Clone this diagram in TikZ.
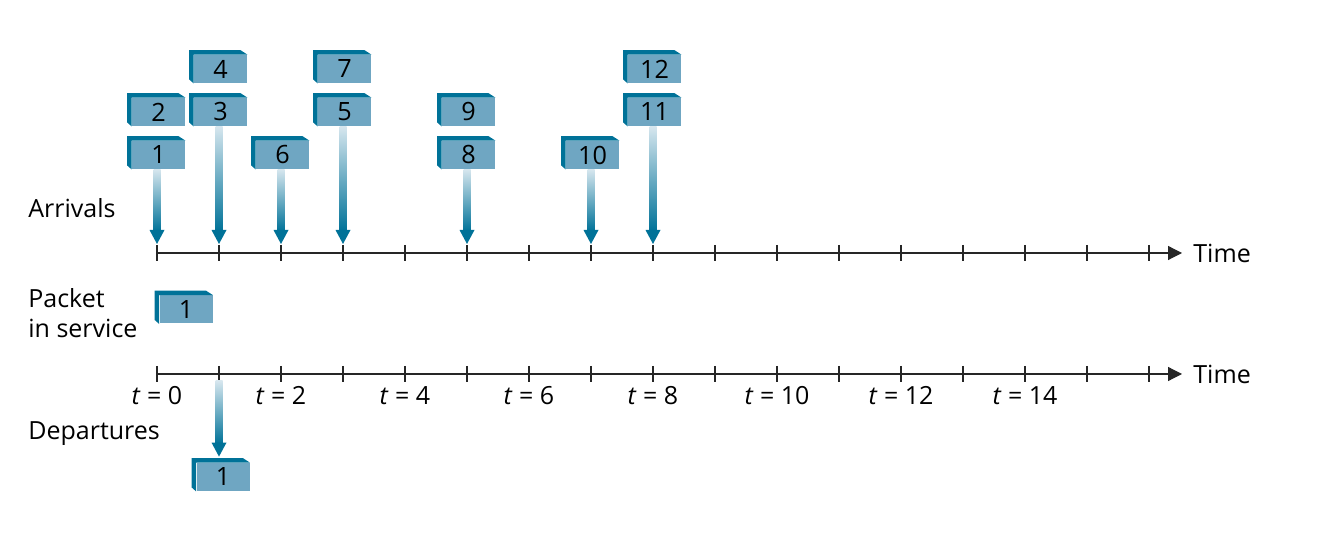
\documentclass[tikz,border=0pt]{standalone}
\usepackage{fontspec}
\setmainfont{Open Sans}
\usetikzlibrary{calc, arrows.meta}

\definecolor{boxLight}{RGB}{111,166,194}
\definecolor{boxDark}{RGB}{0,114,152}
\definecolor{arrowLight}{RGB}{214,230,238}

\begin{document}
\begin{tikzpicture}[
    x=0.5pt, y=-0.5pt,
    packet/.style={rectangle, fill=boxLight, minimum width=26.5pt, minimum height=14pt, inner sep=0pt, font=\fontsize{12.6}{14}\selectfont},
    timeaxis/.style={draw=black!85, line width=0.6pt},
    tickline/.style={draw=black!85, line width=0.55pt},
    sidetext/.style={font=\fontsize{12.5}{15}\selectfont, inner sep=0pt, align=left},
]
    \useasboundingbox (0,0) rectangle (1334,550);

    \def\xScale{62}
    \def\xZero{157}
    \def\arrY{253}
    \def\depY{374}

    % two time axes with ticks
    \coordinate (arrStart) at (\xZero, \arrY);
    \coordinate (arrEnd) at (1182, \arrY);
    \coordinate (depStart) at (\xZero, \depY);
    \coordinate (depEnd) at (1182, \depY);
    \draw [timeaxis, -{Triangle[length=7pt, width=7pt]}] (arrStart) -- (arrEnd);
    \draw [timeaxis, -{Triangle[length=7pt, width=7pt]}] (depStart) -- (depEnd);
    \node [sidetext, anchor=west, xshift=5.5pt] at (arrEnd) (timeA){Time};
    \node [sidetext, anchor=west, xshift=5.5pt] at (depEnd) (timeD){Time};

    \foreach \t in {0, ..., 16}
    {
        \draw [tickline] (\xZero+\xScale*\t, \arrY-8) -- (\xZero+\xScale*\t, \arrY+8);
        \draw [tickline] (\xZero+\xScale*\t, \depY-8) -- (\xZero+\xScale*\t, \depY+8);
        % arrow tip on top of each arrival tick
        \coordinate (arrTick_\t) at (\xZero+\xScale*\t, \arrY-9);
        % arrow start under each departure tick
        \coordinate (depTick_\t) at (\xZero+\xScale*\t, \depY+7);
    }

    % time labels under the lower axis
    \foreach \t in {0, 2, ..., 14}
    {
        \node [sidetext] at (\xZero+\xScale*\t, 396) (tlabel_\t){\textit{t} = \t};
    }

    % row labels on the left
    \node [sidetext, anchor=west] at (28, 208) (arrivals){Arrivals};
    \node [sidetext, anchor=west] at (28, 313) (service){Packet\\in service};
    \node [sidetext, anchor=west] at (28, 434) (departures){Departures};

    % arriving packets
    \foreach \i/\posT/\row in {
    % i:    packet number,
    % posT: the slot it arrives in,
    % row:  the level of the stack, 1 at the bottom
    1/0/1, 2/0/2,
    3/1/2, 4/1/3,
    6/2/1,
    5/3/2, 7/3/3,
    8/5/1, 9/5/2,
    10/7/1,
    11/8/2, 12/8/3}
    {
        \node [packet] at (\xZero+\xScale*\posT+1.5, 198-43*\row) (pkt_\i){\i};
        \fill [boxDark] (pkt_\i.south west) -- ++(-4.5,-4) -- ($(pkt_\i.north west)+(-4.5,-4.5)$)
            -- ($(pkt_\i.north east)+(-7,-4.5)$) -- (pkt_\i.north east) -- (pkt_\i.north west) -- cycle;
    }

    % packet in service and departed packet
    \node [packet] at (186, 309.5) (srv_1){1};
    \node [packet] at (223, 477) (dpt_1){1};
    \foreach \n in {srv_1, dpt_1}
    {
        \fill [boxDark] (\n.south west) -- ++(-4.5,-4) -- ($(\n.north west)+(-4.5,-4.5)$)
            -- ($(\n.north east)+(-7,-4.5)$) -- (\n.north east) -- (\n.north west) -- cycle;
    }

    % arrival arrows, from the lowest packet of each stack
    \foreach \i/\posT in {1/0, 3/1, 6/2, 5/3, 8/5, 10/7, 11/8}
    {
        \shade [top color=arrowLight, bottom color=boxDark]
            ($(pkt_\i.south -| arrTick_\posT)+(-3.5,0)$) rectangle ($(arrTick_\posT)+(3.5,-13)$);
        \fill [boxDark] (arrTick_\posT) -- ++(-7.5,-14) -- ++(15,0) -- cycle;
    }

    % departure arrow
    \coordinate (depHead) at ($(depTick_1 |- dpt_1.north)+(0,-6)$);
    \shade [top color=arrowLight, bottom color=boxDark]
        ($(depTick_1)+(-3.5,0)$) rectangle ($(depHead)+(3.5,-13)$);
    \fill [boxDark] (depHead) -- ++(-7.5,-14) -- ++(15,0) -- cycle;

\end{tikzpicture}
\end{document}
